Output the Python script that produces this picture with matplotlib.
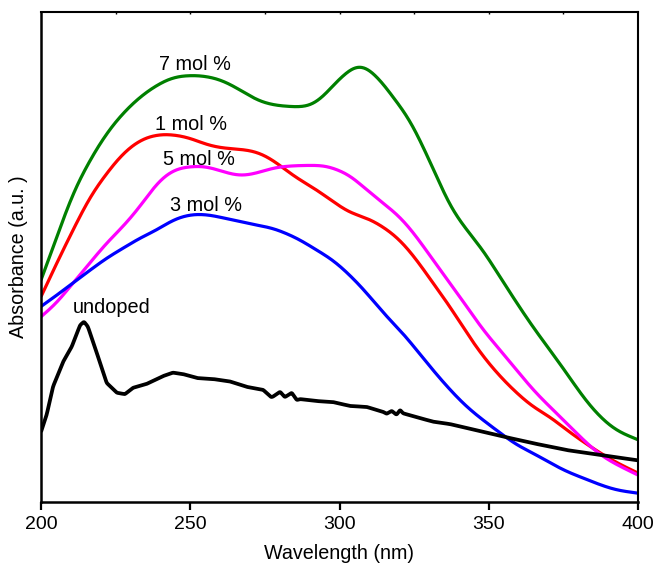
import numpy as np
import matplotlib
matplotlib.use("Agg")
import matplotlib.pyplot as plt

plt.rcParams['font.family'] = ['Liberation Sans', 'DejaVu Sans']

# ---- data (wavelength in nm, absorbance in a.u.) ----
wl_7 = [200, 205.3, 210.7, 216.4, 222.0, 227.5, 233.2, 238.8, 244.2, 249.9, 255.5, 261.0,
        266.7, 272.3, 277.7, 283.4, 286.8, 289.0, 292.4, 296.8, 300.2, 303.5, 306.9, 312.5,
        317.9, 323.6, 328.0, 332.6, 337.0, 342.6, 348.1, 353.8, 359.4, 364.8, 370.5, 376.1,
        381.6, 387.3, 392.9, 400]
abs_7 = [0.453, 0.541, 0.631, 0.698, 0.753, 0.794, 0.827, 0.851, 0.867, 0.871, 0.869, 0.860,
         0.841, 0.820, 0.810, 0.807, 0.806, 0.807, 0.815, 0.842, 0.866, 0.882, 0.895, 0.870,
         0.827, 0.780, 0.725, 0.664, 0.603, 0.555, 0.514, 0.459, 0.406, 0.357, 0.310, 0.263,
         0.214, 0.173, 0.145, 0.127]

wl_1 = [200, 205.3, 210.7, 216.4, 222.0, 227.5, 233.2, 238.8, 244.2, 249.9, 255.5, 261.0,
        266.7, 272.3, 277.7, 283.4, 286.8, 292.4, 297.8, 303.5, 309.1, 314.6, 320.3, 325.9,
        331.3, 337.0, 342.6, 348.1, 353.8, 359.4, 364.8, 370.5, 376.1, 381.6, 387.3, 392.9, 400]
abs_1 = [0.419, 0.488, 0.555, 0.623, 0.671, 0.712, 0.739, 0.750, 0.750, 0.743, 0.729, 0.722,
         0.720, 0.715, 0.698, 0.671, 0.657, 0.637, 0.613, 0.590, 0.580, 0.562, 0.535, 0.494,
         0.447, 0.399, 0.345, 0.297, 0.256, 0.222, 0.194, 0.174, 0.147, 0.123, 0.100, 0.080, 0.059]

wl_5 = [200, 205.3, 210.7, 216.4, 222.0, 227.5, 233.2, 238.8, 244.2, 249.9, 255.5, 261.0,
        266.7, 272.3, 277.7, 283.4, 289.0, 294.6, 297.8, 303.5, 309.1, 314.6, 320.3, 325.9,
        331.3, 337.0, 342.6, 348.1, 353.8, 359.4, 364.8, 370.5, 376.1, 381.6, 387.3, 392.9, 400]
abs_5 = [0.378, 0.406, 0.447, 0.488, 0.529, 0.562, 0.603, 0.651, 0.678, 0.685, 0.685, 0.674,
         0.665, 0.671, 0.682, 0.686, 0.687, 0.687, 0.682, 0.667, 0.637, 0.610, 0.582, 0.541,
         0.494, 0.447, 0.399, 0.351, 0.310, 0.269, 0.229, 0.194, 0.161, 0.127, 0.096, 0.076, 0.055]

wl_3 = [200, 205.3, 210.7, 216.4, 222.0, 227.5, 233.2, 238.8, 244.2, 249.9, 255.5, 261.0,
        266.7, 272.3, 277.7, 283.4, 286.8, 292.4, 297.8, 303.5, 309.1, 314.6, 320.3, 325.9,
        331.3, 337.0, 342.6, 348.1, 353.8, 359.4, 364.8, 370.5, 376.1, 381.6, 387.3, 392.9, 400]
abs_3 = [0.399, 0.422, 0.447, 0.473, 0.498, 0.518, 0.539, 0.555, 0.576, 0.587, 0.587, 0.580,
         0.572, 0.565, 0.559, 0.545, 0.535, 0.514, 0.494, 0.463, 0.427, 0.386, 0.351, 0.310,
         0.269, 0.229, 0.194, 0.167, 0.141, 0.116, 0.100, 0.080, 0.062, 0.049, 0.035, 0.024, 0.018]

wl_u = [200, 201.9, 204.0, 207.4, 210.3, 213.1, 214.4, 215.7, 218.7, 222.0, 225.4, 228.1,
        230.8, 235.4, 240.9, 244.2, 247.6, 252.2, 257.6, 263.3, 268.9, 274.4, 277.1, 277.7,
        280.1, 281.7, 284.0, 285.7, 286.8, 292.4, 297.8, 303.5, 309.1, 314.6, 315.8, 317.5,
        319.1, 320.3, 321.3, 325.9, 331.3, 337.0, 342.6, 348.1, 353.8, 364.8, 376.1, 387.3, 400]
abs_u = [0.143, 0.178, 0.235, 0.286, 0.317, 0.361, 0.368, 0.358, 0.304, 0.243, 0.223, 0.220,
         0.233, 0.241, 0.257, 0.264, 0.261, 0.253, 0.251, 0.246, 0.235, 0.229, 0.214, 0.215,
         0.225, 0.214, 0.223, 0.208, 0.210, 0.206, 0.204, 0.196, 0.194, 0.184, 0.180, 0.186,
         0.178, 0.188, 0.181, 0.173, 0.164, 0.159, 0.151, 0.143, 0.135, 0.120, 0.106, 0.096, 0.085]

labels = ["7 mol %", "1 mol %", "5 mol %", "3 mol %", "undoped"]
colors = ["#008000", "#ff0000", "#ff00ff", "#0000ff", "#000000"]
label_x = [251.6, 250.3, 252.9, 255.3, 223.5]
label_y = [0.893, 0.771, 0.699, 0.605, 0.397]
x_ticks = [200, 250, 300, 350, 400]


def smooth(x, y, width):
    xf = np.linspace(min(x), max(x), 1201)
    yf = np.interp(xf, x, y)
    if width <= 1:
        return xf, yf
    k = np.hanning(width + 2)[1:-1]
    k /= k.sum()
    n = width
    left = 2 * yf[0] - yf[1:n + 1][::-1]
    right = 2 * yf[-1] - yf[-n - 1:-1][::-1]
    ypad = np.concatenate([left, yf, right])
    ys = np.convolve(ypad, k, mode="same")[n:-n]
    return xf, ys


fig = plt.figure(figsize=(6.58, 5.65), dpi=100)
ax = fig.add_axes([41 / 658, 1 - 502 / 565, (638 - 41) / 658, (502 - 12) / 565])

series = [(wl_7, abs_7, 75), (wl_1, abs_1, 75), (wl_5, abs_5, 75), (wl_3, abs_3, 75), (wl_u, abs_u, 5)]
for (x, y, w), c in zip(series, colors):
    xs, ys = smooth(x, y, w)
    ax.plot(xs, ys, color=c, lw=2.3 if c != "#000000" else 2.7, solid_capstyle="butt")

for lab, lx, ly in zip(labels, label_x, label_y):
    ax.text(lx, ly, lab, fontsize=14.3, ha="center", va="center", color="black")

ax.set_xlim(200, 400)
ax.set_ylim(0, 1)
ax.set_xticks(x_ticks)
ax.set_xticklabels([str(t) for t in x_ticks])
ax.set_yticks([])
ax.tick_params(axis="x", direction="out", length=6, width=1.6, labelsize=14, pad=4)
ax.set_xlabel("Wavelength (nm)", fontsize=14.2, labelpad=8)
ax.set_ylabel("Absorbance (a.u. )", fontsize=14.2, labelpad=9)

sec = ax.secondary_xaxis("top")
sec.set_xticks(np.arange(225, 400, 25))
sec.tick_params(direction="in", length=1.5, width=1, labeltop=False)
sec.set_xticklabels([])
sec.spines["top"].set_visible(False)

for s in ["left", "bottom"]:
    ax.spines[s].set_linewidth(1.8)
for s in ["right", "top"]:
    ax.spines[s].set_linewidth(1.5)

fig.savefig("out.png", dpi=100)
